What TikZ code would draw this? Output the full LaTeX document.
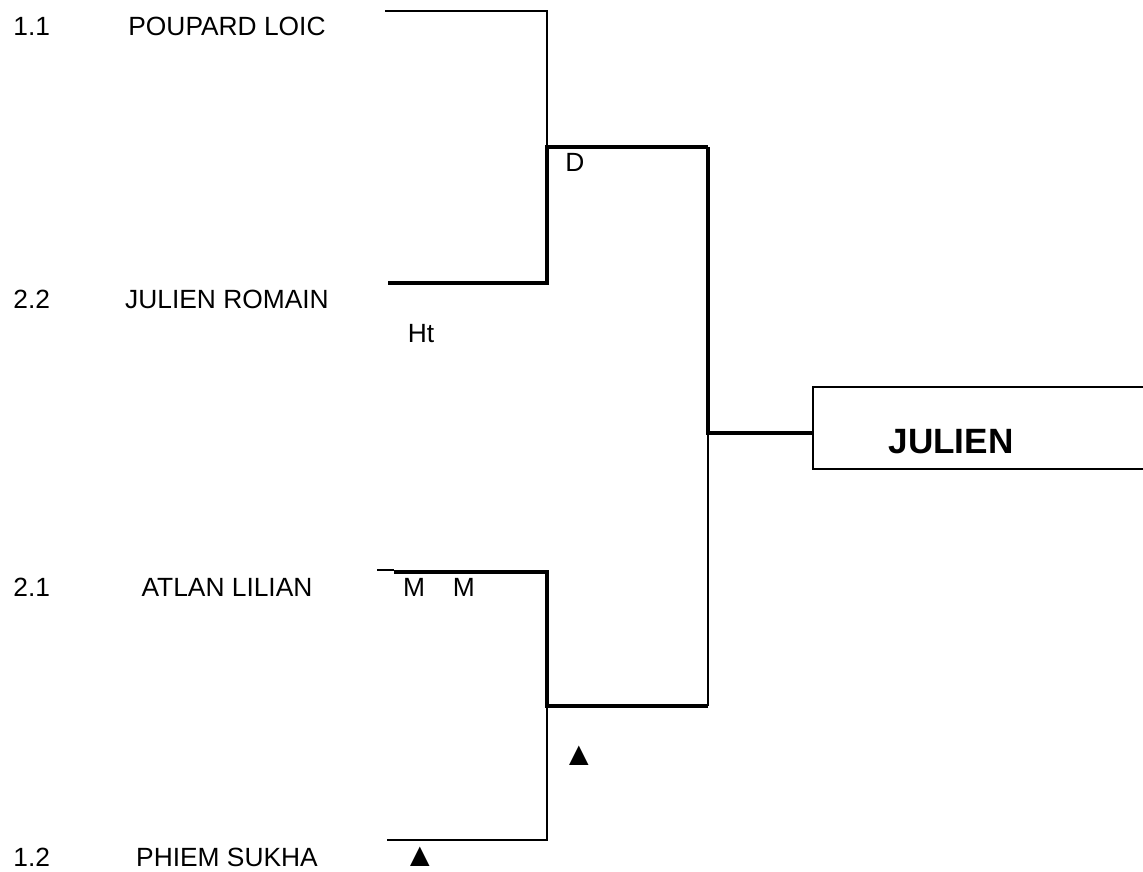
\documentclass[tikz,border=0pt]{standalone}
\usepackage{fontspec}
\setmainfont{Liberation Sans}
\usetikzlibrary{positioning}

\begin{document}
\begin{tikzpicture}[
   x=0.02cm,y=-0.02cm,
   font=\fontsize{15}{17}\selectfont,
   lose/.style={line width=0.9pt},
   win/.style ={line width=2.4pt},
   seed/.style={anchor=west,inner sep=0pt},
   player/.style={anchor=center,inner sep=0pt},
   note/.style={anchor=center,inner sep=0pt},
   tri/.style={anchor=center,inner sep=0pt,font=\fontsize{19}{21}\selectfont}]
   \clip (0,0) rectangle (1143,872);
   % players
   \node[seed]   (s11) at (13,26)  {1.1};
   \node[player] (p11) at (227,26) {POUPARD LOIC};
   \node[seed]   (s22) at (13,299) {2.2};
   \node[player] (p22) at (227,299) {JULIEN ROMAIN};
   \node[seed]   (s21) at (13,587) {2.1};
   \node[player] (p21) at (227,587) {ATLAN LILIAN};
   \node[seed]   (s12) at (13,857) {1.2};
   \node[player] (p12) at (227,857) {PHIEM SUKHA};
   % bracket joints
   \coordinate (l11) at (385,11);
   \coordinate (r11) at (547,11);
   \coordinate (l22) at (388,283);
   \coordinate (r22) at (547,283);
   \coordinate (l21) at (377,570);
   \coordinate (m21) at (394,570);
   \coordinate (n21) at (394,572);
   \coordinate (r21) at (549,572);
   \coordinate (t21) at (547,572);
   \coordinate (l12) at (387,840);
   \coordinate (r12) at (547,840);
   \coordinate (sf1) at (547,147);
   \coordinate (sf1r) at (708,147);
   \coordinate (sf2) at (547,706);
   \coordinate (sf2r) at (708,706);
   \coordinate (fin) at (708,433);
   \coordinate (win) at (813,433);
   % round 1
   \draw[lose] (l11) -- (r11) -- (sf1);
   \draw[win]  (l22) -- (r22) -- (sf1) -- (sf1r);
   \draw[lose] (l21) -- (m21);
   \draw[win]  (n21) -- (r21);
   \draw[win]  (t21) -- (sf2) -- (sf2r);
   \draw[lose] (sf2) -- (r12) -- (l12);
   % final
   \draw[win]  (sf1r) -- (fin) -- (win);
   \draw[lose] (fin) -- (sf2r);
   \draw[lose] (813,387) rectangle (1160,469);
   \node[font=\fontsize{20}{22}\selectfont\bfseries,inner sep=0pt] (champ) at (951,442) {JULIEN};
   % marks
   \node[note] (d)  at (575,162) {D};
   \node[note] (ht) at (421,334) {Ht};
   \node[note] (mm) at (439,587) {M\hspace{1.05em}M};
   \node[tri]  (up1) at (579,756) {▲};
   \node[tri]  (up2) at (420,857) {▲};
\end{tikzpicture}
\end{document}
